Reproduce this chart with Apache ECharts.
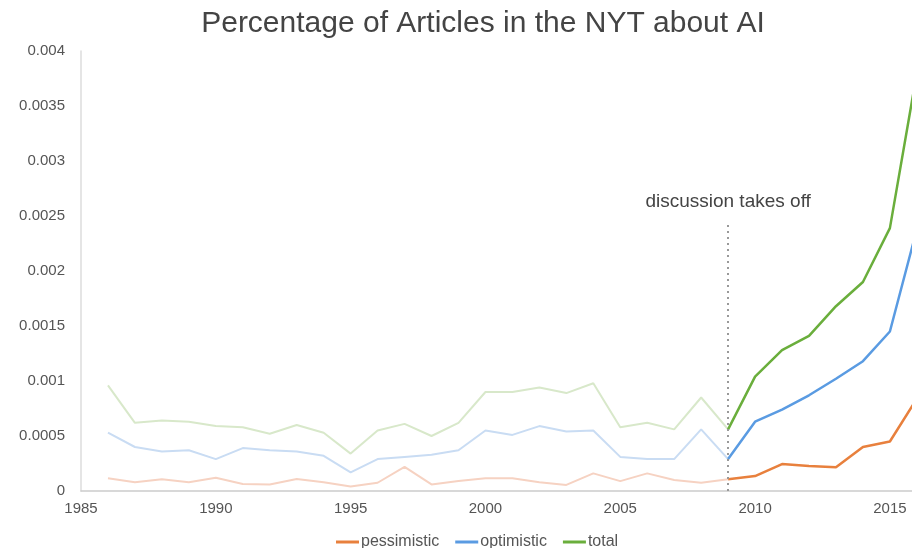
<!DOCTYPE html>
<html>
<head>
<meta charset="utf-8">
<script src="https://cdn.jsdelivr.net/npm/echarts@6/dist/echarts.min.js"></script>
<style>
html,body{margin:0;padding:0;background:#fff;}
#chart{width:912px;height:548px;}
</style>
</head>
<body>
<div id="chart"></div>
<script>
const years = [1986,1987,1988,1989,1990,1991,1992,1993,1994,1995,1996,1997,1998,1999,2000,2001,2002,2003,2004,2005,2006,2007,2008,2009,2010,2011,2012,2013,2014,2015,2016];
const pessimistic = [0.000115,0.00008,0.000106,0.00008,0.00012,0.000064,0.00006,0.00011,0.00008,0.00004,0.000075,0.00022,0.00006,0.00009,0.000115,0.000115,0.00008,0.000055,0.00016,0.00009,0.00016,0.0001,0.000075,0.000106,0.000136,0.000245,0.000227,0.000215,0.0004,0.00045,0.00084];
const optimistic = [0.00053,0.0004,0.00036,0.00037,0.00029,0.00039,0.00037,0.00036,0.00032,0.00017,0.00029,0.00031,0.00033,0.00037,0.00055,0.00051,0.00059,0.00054,0.00055,0.00031,0.00029,0.00029,0.00056,0.00029,0.00063,0.00074,0.00087,0.00102,0.00118,0.00145,0.00238];
const total = [0.00096,0.00062,0.00064,0.00063,0.00059,0.00058,0.00052,0.0006,0.00053,0.00034,0.00055,0.00061,0.0005,0.00062,0.0009,0.0009,0.00094,0.00089,0.00098,0.00058,0.00062,0.00056,0.00085,0.00056,0.00104,0.00128,0.00141,0.00168,0.0019,0.00239,0.0038];
const seriesNames = ['pessimistic','optimistic','total'];
const brightColors = ['#E8803D','#5A9BE2','#6AAE3C'];
const fadedColors = ['#F6D2C2','#C9DCF3','#D8E8CA'];
const takeoffYear = 2009;
const takeoffLabel = 'discussion takes off';
const takeoffLineTop = 0.00244;

const FONT = "'Liberation Sans', Arial, sans-serif";
const allData = [pessimistic, optimistic, total];
const split = years.indexOf(takeoffYear);

const series = [];
allData.forEach((vals, i) => {
  const pts = years.map((y, k) => [y, vals[k]]);
  series.push({
    name: seriesNames[i] + ' (before)',
    type: 'line',
    data: pts.slice(0, split + 1),
    symbol: 'none',
    lineStyle: {color: fadedColors[i], width: 2},
    itemStyle: {color: fadedColors[i]},
    z: 1,
    silent: true
  });
});
allData.forEach((vals, i) => {
  const pts = years.map((y, k) => [y, vals[k]]);
  const s = {
    name: seriesNames[i],
    type: 'line',
    data: pts.slice(split),
    symbol: 'none',
    lineStyle: {color: brightColors[i], width: 2.5},
    itemStyle: {color: brightColors[i]},
    z: 3
  };
  if (i === 0) {
    s.markLine = {
      silent: true,
      symbol: ['none','none'],
      lineStyle: {color: '#999', type: [2, 4], width: 2},
      label: {
        show: true, position: 'end', formatter: takeoffLabel,
        fontFamily: FONT, fontSize: 19, color: '#444', distance: 11
      },
      data: [[{coord: [takeoffYear, 0]}, {coord: [takeoffYear, takeoffLineTop]}]]
    };
  }
  series.push(s);
});

const chart = echarts.init(document.getElementById('chart'), null, {renderer: 'canvas'});
chart.setOption({
  animation: false,
  backgroundColor: '#fff',
  title: {
    text: 'Percentage of Articles in the NYT about AI',
    left: 478, textAlign: 'center', top: 4,
    textStyle: {fontFamily: FONT, fontSize: 30, fontWeight: 'normal', color: '#444'}
  },
  legend: {
    data: seriesNames,
    top: 529, left: 331,
    icon: 'rect',
    itemWidth: 23, itemHeight: 3, itemGap: 16,
    textStyle: {fontFamily: FONT, fontSize: 16, color: '#555', padding: [0, 0, 0, -3]}
  },
  grid: {left: 81, right: 0, top: 51, bottom: 57, containLabel: false},
  xAxis: {
    type: 'value', min: 1985, max: 2015.82, interval: 5,
    axisLine: {show: true, lineStyle: {color: '#ccc', width: 1.5}},
    axisTick: {show: false},
    splitLine: {show: false},
    axisLabel: {
      showMaxLabel: false, fontFamily: FONT, fontSize: 15, color: '#555', margin: 10,
      formatter: v => (v % 5 === 0 ? String(v) : '')
    }
  },
  yAxis: {
    type: 'value', min: 0, max: 0.004, interval: 0.0005,
    axisLine: {show: true, lineStyle: {color: '#ddd', width: 1.5}},
    axisTick: {show: false},
    splitLine: {show: false},
    axisLabel: {fontFamily: FONT, fontSize: 15, color: '#555', margin: 16}
  },
  series: series
});
</script>
</body>
</html>
